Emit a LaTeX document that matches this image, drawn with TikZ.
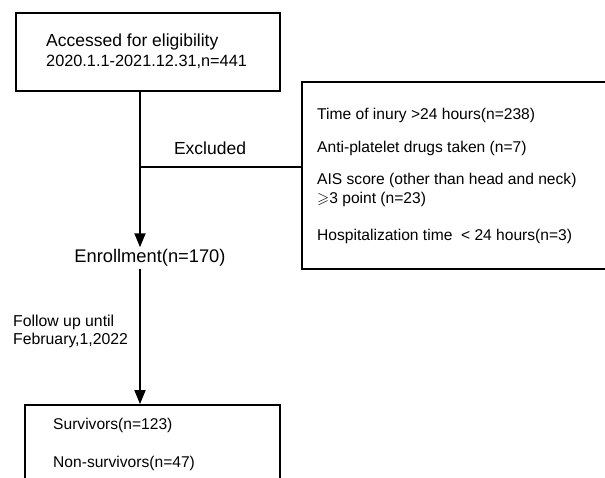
\documentclass[tikz,border=0pt]{standalone}
\usepackage{fontspec}
\usepackage{amssymb}
\setmainfont{Liberation Sans}
\usetikzlibrary{arrows.meta}
\begin{document}
\begin{tikzpicture}[x=1pt,y=-1pt,
  box/.style={draw, line width=1.8pt, inner sep=0pt},
  txt/.style={anchor=west, inner sep=0pt},
  conn/.style={line width=1.8pt},
  arr/.style={-{Triangle[length=14pt,width=11pt]}, line width=1.8pt}]
\clip (0,0) rectangle (605,478);
% boxes
\node[box, minimum width=264pt, minimum height=78pt] (top) at (148,52) {};
\node[box, minimum width=313pt, minimum height=187pt] (excl) at (458.5,175.5) {};
\node[box, minimum width=255pt, minimum height=95pt] (surv) at (152.5,452.5) {};
% texts
\node[txt, font=\fontsize{17.5}{20}\selectfont] (t1) at (46,42) {Accessed for eligibility};
\node[txt, font=\fontsize{16.3}{19}\selectfont] (t2) at (46,62) {2020.1.1-2021.12.31,n=441};
\node[inner sep=0pt, font=\fontsize{17.5}{20}\selectfont] (exlab) at (210,148) {Excluded};
\node[inner sep=2pt, font=\fontsize{18.3}{21}\selectfont] (enroll) at (150,258) {Enrollment(n=170)};
\node[txt, align=left, font=\fontsize{15.8}{18}\selectfont] (f1) at (13,331) {Follow up until\\February,1,2022};
\begin{scope}[every node/.style={txt, font=\fontsize{15.6}{17}\selectfont}]
\node (e1) at (317,115) {Time of inury >24 hours(n=238)};
\node (e2) at (317,148) {Anti-platelet drugs taken (n=7)};
\node[align=left, font=\fontsize{15.6}{18.5}\selectfont] (e3) at (317,190) {AIS score (other than head and neck)\\$\geqslant$3 point (n=23)};
\node (e5) at (317,236) {Hospitalization time\ \ < 24 hours(n=3)};
\node (s1) at (53,425) {Survivors(n=123)};
\node (s2) at (53,463) {Non-survivors(n=47)};
\end{scope}
% connectors
\coordinate (j) at (140,167);
\draw[arr] (top.south -| j) -- (enroll.north -| j);
\draw[conn] (j) -- (excl.west |- j);
\draw[arr] (enroll.south -| j) -- (surv.north -| j);
\end{tikzpicture}
\end{document}
